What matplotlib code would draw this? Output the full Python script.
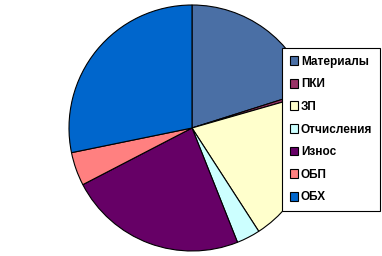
import matplotlib.pyplot as plt
from matplotlib.patches import Patch

# Pie data (share, %)
labels = ["Материалы", "ПКИ", "ЗП", "Отчисления", "Износ", "ОБП", "ОБХ"]
shares = [20.1, 0.45, 20.3, 3.1, 23.4, 4.4, 28.2]
colors = ["#4A6FA5", "#993366", "#FFFFCC", "#CCFFFF", "#660066", "#FF8080", "#0066CC"]

fig = plt.figure(figsize=(3.82, 2.56), dpi=100)
ax = fig.add_axes([0, 0, 1, 1])
ax.axis("off")

ax.pie(shares, colors=colors, startangle=90, counterclock=False,
       center=(192, 128), radius=123,
       wedgeprops=dict(edgecolor="black", linewidth=0.8))
ax.set_xlim(0, 382)
ax.set_ylim(0, 256)
ax.set_aspect("equal")

handles = [Patch(facecolor=c, edgecolor="black", linewidth=0.8) for c in colors]
leg = fig.legend(handles, labels, loc="upper left", bbox_to_anchor=(0.738, 0.8125),
                 frameon=True, fancybox=False, framealpha=1,
                 handlelength=0.75, handleheight=0.75, handletextpad=0.2,
                 labelspacing=0.9, borderpad=0.65, borderaxespad=0,
                 prop={"family": "Liberation Sans", "weight": "bold", "size": 8.5})
leg.get_frame().set_edgecolor("black")
leg.get_frame().set_linewidth(0.8)

fig.savefig("out.png", dpi=100)
